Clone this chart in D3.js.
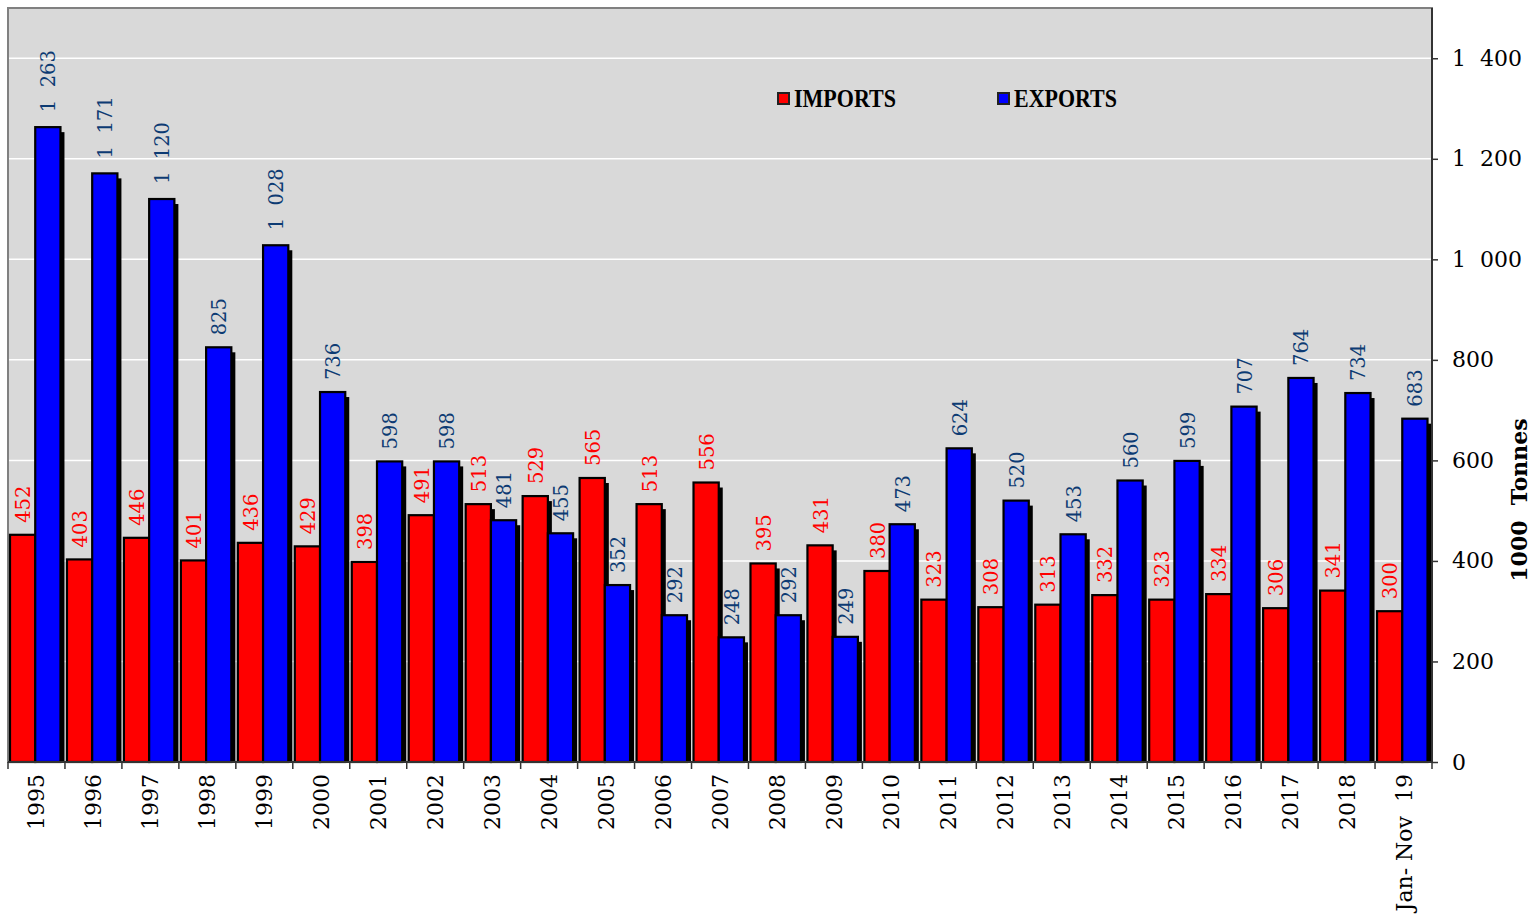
<!DOCTYPE html>
<html>
<head>
<meta charset="utf-8">
<script src="https://cdn.jsdelivr.net/npm/d3@7"></script>
<style>
  body { margin: 0; background: #fff; }
  svg { display: block; }
</style>
</head>
<body>
<div id="chart"></div>
<script>
// data
const categories = ['1995', '1996', '1997', '1998', '1999', '2000', '2001', '2002', '2003', '2004',
  '2005', '2006', '2007', '2008', '2009', '2010', '2011', '2012', '2013', '2014',
  '2015', '2016', '2017', '2018', 'Jan-\u00a0Nov\u00a0\u00a019'];
const imports = [452, 403, 446, 401, 436, 429, 398, 491, 513, 529, 565, 513, 556, 395, 431,
  380, 323, 308, 313, 332, 323, 334, 306, 341, 300];
const exportsData = [1263, 1171, 1120, 825, 1028, 736, 598, 598, 481, 455, 352, 292, 248, 292, 249,
  473, 624, 520, 453, 560, 599, 707, 764, 734, 683];
const yTicks = [0, 200, 400, 600, 800, 1000, 1200, 1400];
const seriesNames = ['IMPORTS', 'EXPORTS'];

const width = 1535;
const height = 917;
const plotLeft = 8, plotRight = 1432, plotTop = 8, plotBottom = 762;

const fmt = v => {
  const s = String(v);
  return s.length > 3 ? s.slice(0, s.length - 3) + '\u00a0\u00a0' + s.slice(-3) : s;
};

const svg = d3.select('#chart')
  .append('svg')
  .attr('width', width)
  .attr('height', height);

// scales
const x = d3.scaleBand()
  .domain(categories)
  .range([plotLeft, plotRight])
  .padding(0);

const xInner = d3.scaleBand()
  .domain(seriesNames)
  .range([2, x.bandwidth() - 4.5])
  .padding(0);

const y = d3.scaleLinear()
  .domain([0, 1500])
  .range([plotBottom, plotTop]);

// plot background
svg.append('rect')
  .attr('x', plotLeft)
  .attr('y', plotTop)
  .attr('width', plotRight - plotLeft)
  .attr('height', plotBottom - plotTop)
  .attr('fill', '#d9d9d9')
  .attr('stroke', '#808080')
  .attr('stroke-width', 2);

// gridlines
svg.append('g')
  .selectAll('line')
  .data(yTicks.filter(d => d > 0))
  .enter()
  .append('line')
  .attr('x1', plotLeft + 1)
  .attr('x2', plotRight)
  .attr('y1', d => y(d))
  .attr('y2', d => y(d))
  .attr('stroke', '#ffffff')
  .attr('stroke-width', 1.5);

const rows = categories.map((c, i) => ({ cat: c, IMPORTS: imports[i], EXPORTS: exportsData[i] }));
const colors = { IMPORTS: '#ff0000', EXPORTS: '#0000ff' };
const labelColors = { IMPORTS: '#ff0000', EXPORTS: '#0d3b73' };

const groups = svg.append('g')
  .selectAll('g')
  .data(rows)
  .enter()
  .append('g')
  .attr('transform', d => `translate(${x(d.cat)},0)`);

const bars = groups.selectAll('g.bar')
  .data(d => seriesNames.map(s => ({ key: s, value: d[s] })))
  .enter()
  .append('g')
  .attr('class', 'bar');

// shadows
bars.append('rect')
  .attr('x', d => xInner(d.key) + 4)
  .attr('y', d => y(d.value) + 5)
  .attr('width', xInner.bandwidth())
  .attr('height', d => plotBottom - y(d.value) - 5)
  .attr('fill', '#000');

bars.append('rect')
  .attr('x', d => xInner(d.key))
  .attr('y', d => y(d.value))
  .attr('width', xInner.bandwidth())
  .attr('height', d => plotBottom - y(d.value))
  .attr('fill', d => colors[d.key])
  .attr('stroke', '#000')
  .attr('stroke-width', 2.2);

// value labels
bars.append('text')
  .attr('transform', d => `translate(${xInner(d.key) + xInner.bandwidth() / 2 + 7.5},${y(d.value) - (d.value >= 1000 ? 15 : 12)}) rotate(-90)`)
  .attr('font-family', 'DejaVu Serif')
  .attr('font-size', 19.5)
  .attr('fill', d => labelColors[d.key])
  .text(d => fmt(d.value));

// right axis
const yAxis = svg.append('g')
  .attr('transform', `translate(${plotRight},0)`)
  .call(d3.axisRight(y).tickValues(yTicks).tickSize(6).tickPadding(14).tickFormat(fmt));
yAxis.select('.domain').attr('stroke', '#333').attr('stroke-width', 2)
  .attr('d', `M0,${plotTop}V${plotBottom}`);
yAxis.selectAll('.tick line').attr('stroke', '#333').attr('stroke-width', 1.5);
yAxis.selectAll('.tick text')
  .attr('font-family', 'DejaVu Serif')
  .attr('font-size', 22)
  .attr('fill', '#000');

// bottom category ticks
svg.append('g')
  .selectAll('line')
  .data(categories.map(c => x(c)).concat([plotRight]))
  .enter()
  .append('line')
  .attr('x1', d => d)
  .attr('x2', d => d)
  .attr('y1', plotBottom)
  .attr('y2', plotBottom + 7)
  .attr('stroke', '#333')
  .attr('stroke-width', 1.5);

svg.append('line')
  .attr('x1', plotLeft)
  .attr('x2', plotRight)
  .attr('y1', plotBottom)
  .attr('y2', plotBottom)
  .attr('stroke', '#333')
  .attr('stroke-width', 2);

// category labels
svg.append('g')
  .selectAll('text')
  .data(categories)
  .enter()
  .append('text')
  .attr('transform', d => `translate(${x(d) + x.bandwidth() / 2 + 8},${plotBottom + 12}) rotate(-90)`)
  .attr('text-anchor', 'end')
  .attr('font-family', 'DejaVu Serif')
  .attr('font-size', 22)
  .attr('fill', '#000')
  .text(d => d);

// y axis title
svg.append('text')
  .attr('transform', `translate(1527,500) rotate(-90)`)
  .attr('text-anchor', 'middle')
  .attr('font-family', 'DejaVu Serif')
  .attr('font-weight', 'bold')
  .attr('font-size', 22)
  .text('1000\u00a0\u00a0Tonnes');

// legend
const legendX = [777, 997];
const legend = svg.append('g')
  .selectAll('g')
  .data(seriesNames)
  .enter()
  .append('g')
  .attr('transform', (d, i) => `translate(${legendX[i]},0)`);

legend.append('rect')
  .attr('x', 1)
  .attr('y', 93)
  .attr('width', 11)
  .attr('height', 11)
  .attr('fill', d => colors[d])
  .attr('stroke', '#222')
  .attr('stroke-width', 2);

legend.append('text')
  .attr('x', 17)
  .attr('y', 107)
  .attr('font-family', 'Liberation Serif')
  .attr('font-weight', 'bold')
  .attr('font-size', 25)
  .attr('textLength', d => d === 'IMPORTS' ? 102 : 103)
  .attr('lengthAdjust', 'spacingAndGlyphs')
  .text(d => d);
</script>
</body>
</html>
